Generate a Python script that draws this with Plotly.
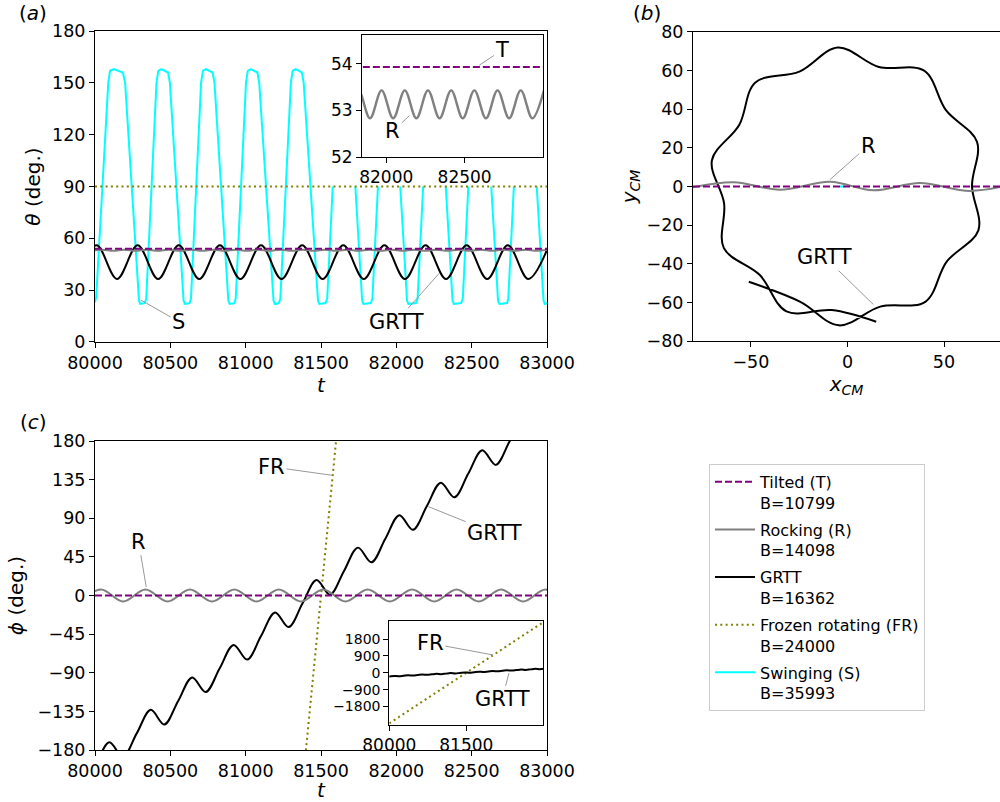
import plotly.graph_objects as go

# ---------------- data ----------------
T_RANGE = [80000, 83000]
T_TICKS = [80000, 80500, 81000, 81500, 82000, 82500, 83000]

# Tilted (T)
T_t = [80000, 83000]
T_theta = [53.93, 53.93]
T_phi = [0, 0]
T_xcm = [-80, 80]
T_ycm = [0, 0]

# Rocking (R)
R_theta_t = [79972, 80046, 80120, 80194, 80268, 80342, 80416, 80490, 80564, 80638,
             80712, 80786, 80860, 80934, 81008, 81082, 81156, 81230, 81304, 81378,
             81452, 81526, 81600, 81674, 81748, 81822, 81896, 81970, 82044, 82118,
             82192, 82266, 82340, 82414, 82488, 82562, 82636, 82710, 82784, 82858,
             82932, 83006]
R_theta_v = [52.83, 53.43, 52.83, 53.43, 52.83, 53.43, 52.83, 53.43, 52.83, 53.43,
             52.83, 53.43, 52.83, 53.43, 52.83, 53.43, 52.83, 53.43, 52.83, 53.43,
             52.83, 53.43, 52.83, 53.43, 52.83, 53.43, 52.83, 53.43, 52.83, 53.43,
             52.83, 53.43, 52.83, 53.43, 52.83, 53.43, 52.83, 53.43, 52.83, 53.43,
             52.83, 53.43]
R_phi_t = [79893, 80040, 80187, 80335, 80482, 80630, 80777, 80925, 81072, 81220,
           81367, 81515, 81662, 81810, 81957, 82105, 82252, 82400, 82547, 82695,
           82842, 82990, 83137]
R_phi_v = [-7, 7, -7, 7, -7, 7, -7, 7, -7, 7,
           -7, 7, -7, 7, -7, 7, -7, 7, -7, 7,
           -7, 7, -7]
R_xcm = [-84, -59, -35, -9, 13.5, 37.5, 63.5, 87]
R_ycm = [-1.2, 2.2, -1.7, 2.4, -2.0, 1.8, -2.3, 1.5]

# GRTT
G_theta_t = [79874, 80010, 80146, 80283, 80419, 80556, 80692, 80829, 80965, 81102,
             81238, 81375, 81511, 81648, 81784, 81921, 82057, 82194, 82330, 82467,
             82603, 82740, 82876, 83013]
G_theta_v = [36.5, 56, 36.5, 56, 36.5, 56, 36.5, 56, 36.5, 56,
             36.5, 56, 36.5, 56, 36.5, 56, 36.5, 56, 36.5, 56,
             36.5, 56, 36.5, 56]
G_phi_t = [79820, 79910, 80002, 80095, 80185, 80277, 80370, 80460, 80552, 80645,
           80735, 80827, 80920, 81010, 81102, 81195, 81285, 81377, 81470, 81560,
           81652, 81745, 81835, 81927, 82020, 82110, 82202, 82295, 82385, 82477,
           82570, 82660, 82752, 82845, 82935, 83027]
G_phi_v = [-208.8, -225.8, -198.4, -171.0, -188.0, -160.6, -133.2, -150.2, -122.8, -95.4,
           -112.4, -85.0, -57.6, -74.6, -47.2, -19.8, -36.8, -9.4, 18.0, 1.0,
           28.4, 55.8, 38.8, 66.2, 93.6, 76.6, 104.0, 131.4, 114.4, 141.8,
           169.2, 152.2, 179.6, 207.0, 190.0, 217.4]
G_xcm = [-51.1, -24.4, -4.4, 17.0, 40.3, 51.3, 67.8, 64.5, 67.1, 51.0, 39.7, 16.3,
         -5.0, -24.9, -47.7, -56.0, -70.2, -63.9, -64.0, -45.4, -31.6, -8.1, 14.9]
G_ycm = [-49.3, -59.7, -71.9, -62.2, -59.7, -39.0, -22.7, 0.3, 23.1, 39.5, 60.0, 61.9,
         72.0, 59.5, 53.9, 32.0, 13.6, -8.7, -31.9, -45.8, -64.7, -64.0, -70.0]

# Frozen rotating (FR)
FR_t = [80000, 83000]
FR_theta = [90, 90]
FR_phi = [-2700, 2700]

# Swinging (S)
S_t = [80000, 80008, 80088, 80100, 80125, 80185, 80200, 80292, 80300, 80330, 80340,
       80408, 80420, 80440, 80485, 80497, 80588, 80597, 80627, 80637,
       80704, 80716, 80736, 80781, 80793, 80885, 80894, 80924, 80934,
       81002, 81014, 81034, 81078, 81090, 81185, 81194, 81220, 81230,
       81300, 81312, 81332, 81373, 81385, 81480, 81489, 81530, 81541,
       81578, None, 81728, 81773, 81782, 81830, 81841,
       81878, None, 82026, 82071, 82080, 82130, 82141,
       82178, None, 82328, 82373, 82382, 82430, 82441,
       82478, None, 82630, 82675, 82684, 82735, 82743,
       82780, None, 82932, 82977, 82986, 83000]
S_theta = [23, 26, 150, 157, 158, 156, 150, 24, 22, 22.5, 25,
           150, 157, 158, 156, 150, 24, 22, 22.5, 25,
           150, 157, 158, 156, 150, 24, 22, 22.5, 25,
           150, 157, 158, 156, 150, 24, 22, 22.5, 25,
           150, 157, 158, 156, 150, 24, 22, 22.5, 25,
           90, None, 90, 24, 22, 22.5, 25,
           90, None, 90, 24, 22, 22.5, 25,
           90, None, 90, 24, 22, 22.5, 25,
           90, None, 90, 24, 22, 22.5, 25,
           90, None, 90, 24, 22, 22.5]
S_xcm = [-4, -1.5]
S_ycm = [0, 0]

NAMES = {
    "T": "Tilted (T)<br>B=10799",
    "R": "Rocking (R)<br>B=14098",
    "G": "GRTT<br>B=16362",
    "FR": "Frozen rotating (FR)<br>B=24000",
    "S": "Swinging (S)<br>B=35993",
}

# ---------------- styles ----------------
FONT = "DejaVu Sans"
STY = {
    "T": dict(color="#800080", dash="7px,3px", shape="linear"),
    "R": dict(color="#808080", dash="solid", shape="spline"),
    "G": dict(color="#000000", dash="solid", shape="spline"),
    "FR": dict(color="#808000", dash="2px,3.3px", shape="linear"),
    "S": dict(color="#00ffff", dash="solid", shape="linear"),
}
RANK = {"T": 1, "R": 2, "G": 3, "FR": 4, "S": 5}

fig = go.Figure()


def add(key, x, y, xa, ya, legend=False, width=2):
    s = STY[key]
    fig.add_trace(go.Scatter(
        x=x, y=y, xaxis=xa, yaxis=ya, mode="lines",
        line=dict(color=s["color"], dash=s["dash"], shape=s["shape"], width=width),
        name=NAMES[key], legendgroup=key, showlegend=legend,
        legendrank=RANK[key], connectgaps=False, hoverinfo="skip"))


# panel (a)
add("S", S_t, S_theta, "x", "y", legend=True)
add("FR", FR_t, FR_theta, "x", "y", legend=True)
add("G", G_theta_t, G_theta_v, "x", "y", legend=True)
add("R", R_theta_t, R_theta_v, "x", "y", legend=True)
add("T", T_t, T_theta, "x", "y", legend=True)
# inset (a)
add("R", R_theta_t, R_theta_v, "x2", "y2", width=2.4)
add("T", T_t, T_theta, "x2", "y2")
# panel (b)
add("S", S_xcm, S_ycm, "x3", "y3")
add("G", G_xcm, G_ycm, "x3", "y3")
add("R", R_xcm, R_ycm, "x3", "y3")
add("T", T_xcm, T_ycm, "x3", "y3")
# panel (c)
add("FR", FR_t, FR_phi, "x4", "y4")
add("G", G_phi_t, G_phi_v, "x4", "y4")
add("R", R_phi_t, R_phi_v, "x4", "y4")
add("T", T_t, T_phi, "x4", "y4")
# inset (c)
add("FR", FR_t, FR_phi, "x5", "y5")
add("G", G_phi_t, G_phi_v, "x5", "y5")

TICKFONT = dict(family=FONT, size=17.5, color="black")
INSET_TICKFONT = dict(family=FONT, size=17, color="black")
SMALL_TICKFONT = dict(family=FONT, size=14, color="black")
TITLEFONT = dict(family=FONT, size=20, color="black")


def ax(**kw):
    d = dict(showline=True, linecolor="black", linewidth=1, mirror=True,
             ticks="outside", ticklen=5, tickwidth=1, tickcolor="black",
             showgrid=False, zeroline=False, tickfont=TICKFONT,
             tickformat="d", automargin=False)
    d.update(kw)
    return d


fig.update_layout(
    width=1000, height=802, autosize=False,
    margin=dict(l=0, r=0, t=0, b=0, pad=0, autoexpand=False),
    paper_bgcolor="white", plot_bgcolor="white",
    font=dict(family=FONT, color="black"),
    xaxis=ax(domain=[0.095, 0.547], anchor="y", range=T_RANGE, tickvals=T_TICKS,
             title=dict(text="<i>t</i>", font=TITLEFONT, standoff=0)),
    yaxis=ax(domain=[0.5736, 0.9613], anchor="x", range=[0, 180],
             tickvals=[0, 30, 60, 90, 120, 150, 180],
             title=dict(text="<i>θ</i> (deg.)", font=TITLEFONT, standoff=6)),
    xaxis2=ax(domain=[0.362, 0.543], anchor="y2", range=[81845, 83000],
              tickvals=[82000, 82500], tickfont=INSET_TICKFONT),
    yaxis2=ax(domain=[0.8042, 0.9564], anchor="x2", range=[52, 54.62],
              tickvals=[52, 53, 54], tickfont=INSET_TICKFONT),
    xaxis3=ax(domain=[0.693, 1.0], anchor="y3", range=[-80, 79], tickvals=[-50, 0, 50],
              title=dict(text="<i>x</i><sub><i>CM</i></sub>", font=TITLEFONT, standoff=0)),
    yaxis3=ax(domain=[0.5748, 0.9601], anchor="x3", range=[-80, 80], mirror=False,
              tickvals=[-80, -60, -40, -20, 0, 20, 40, 60, 80],
              title=dict(text="<i>y</i><sub><i>CM</i></sub>", font=TITLEFONT, standoff=4)),
    xaxis4=ax(domain=[0.095, 0.547], anchor="y4", range=T_RANGE, tickvals=T_TICKS,
              title=dict(text="<i>t</i>", font=TITLEFONT, standoff=0)),
    yaxis4=ax(domain=[0.0648, 0.4501], anchor="x4", range=[-180, 180],
              tickvals=[-180, -135, -90, -45, 0, 45, 90, 135, 180],
              title=dict(text="<i>ϕ</i> (deg.)", font=TITLEFONT, standoff=8)),
    xaxis5=ax(domain=[0.3893, 0.5433], anchor="y5", range=[80000, 83000],
              tickvals=[80000, 81500], tickfont=INSET_TICKFONT),
    yaxis5=ax(domain=[0.096, 0.2261], anchor="x5", range=[-2790, 2780],
              tickvals=[-1800, -900, 0, 900, 1800], tickfont=SMALL_TICKFONT),
    legend=dict(x=0.709, y=0.4215, xanchor="left", yanchor="top",
                bgcolor="white", bordercolor="#cccccc", borderwidth=1,
                font=dict(family=FONT, size=16, color="black"),
                valign="top", tracegroupgap=3, itemwidth=40),
)

ANN_FONT = dict(family=FONT, size=21, color="black")


def pointer(text, xa, ya, tip, pos):
    fig.add_annotation(text=text, xref=xa, yref=ya, axref=xa, ayref=ya,
                       x=tip[0], y=tip[1], ax=pos[0], ay=pos[1],
                       showarrow=True, arrowhead=0, arrowwidth=1, arrowcolor="#999999",
                       standoff=0, startstandoff=0, font=ANN_FONT)


pointer("S", "x", "y", (80305, 24.3), (80555, 11.8))
pointer("GRTT", "x", "y", (82285, 39.8), (82000, 11.8))
pointer("T", "x2", "y2", (82593, 53.97), (82741, 54.30))
pointer("R", "x2", "y2", (82148, 52.89), (82041, 52.55))
pointer("R", "x3", "y3", (-9.1, 3.5), (10.8, 21.2))
pointer("GRTT", "x3", "y3", (13.4, -61.1), (-11.7, -36.6))
pointer("FR", "x4", "y4", (81575, 140), (81171, 150))
pointer("R", "x4", "y4", (80340, 10), (80289, 62.7))
pointer("GRTT", "x4", "y4", (82214, 103.5), (82652, 72.5))
pointer("FR", "x5", "y5", (82020, 950), (80800, 1570))
pointer("GRTT", "x5", "y5", (82330, -20), (82200, -1421))

for lab, px, py in [("(<i>a</i>)", 33, 13), ("(<i>b</i>)", 647, 13), ("(<i>c</i>)", 33, 422)]:
    fig.add_annotation(text=lab, xref="paper", yref="paper", x=px / 1000, y=1 - py / 802,
                       xanchor="center", yanchor="middle", showarrow=False,
                       font=dict(family=FONT, size=20, color="black"))

fig.write_html("out.html")
